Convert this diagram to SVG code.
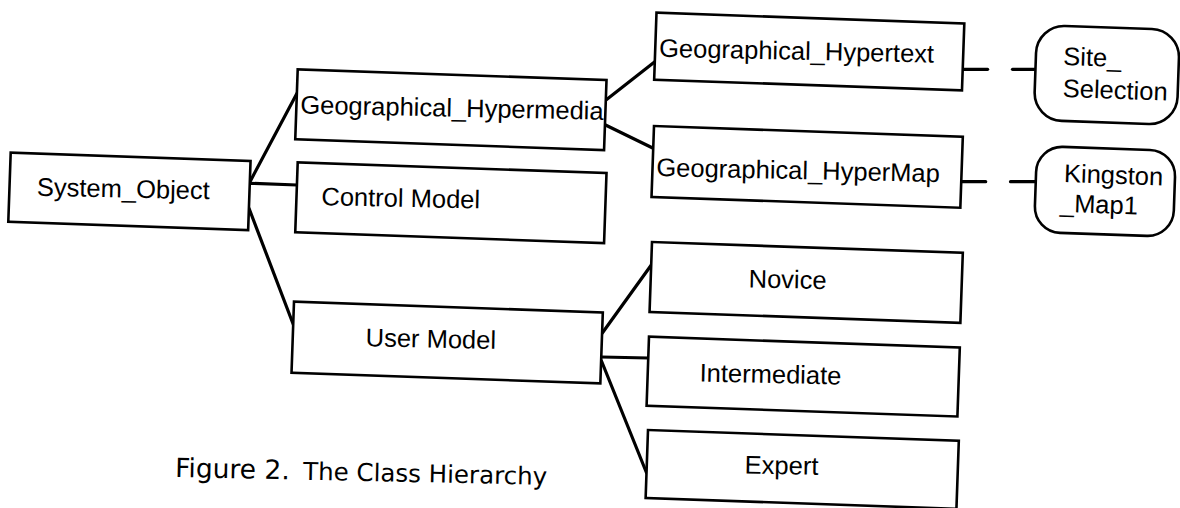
<svg xmlns="http://www.w3.org/2000/svg" width="1180" height="508" viewBox="0 0 1180 508">
  <style>
    .box { fill: #fff; stroke: #000; stroke-width: 2.6; }
    .lbl { font-family: "Liberation Sans", Arial, sans-serif; font-size: 25.5px; fill: #000; }
    .cap { font-family: "DejaVu Sans", Verdana, sans-serif; fill: #000; }
    .edge { fill: none; stroke: #000; stroke-width: 3.2; stroke-linecap: round; }
  </style>
  <rect x="0" y="0" width="1180" height="508" fill="#fff"/>

  <!-- connectors -->
  <g id="connectors">
    <!-- System_Object children -->
    <line class="edge" x1="250" y1="181.7" x2="297" y2="93.3"/>
    <line class="edge" x1="250" y1="183.3" x2="297" y2="185"/>
    <line class="edge" x1="249" y1="208.3" x2="293.5" y2="325"/>
    <!-- Geographical_Hypermedia children -->
    <line class="edge" x1="606" y1="100" x2="654.8" y2="61.7"/>
    <line class="edge" x1="605.5" y1="125" x2="653.2" y2="148.3"/>
    <!-- User Model children -->
    <line class="edge" x1="602.3" y1="333" x2="651.3" y2="265"/>
    <line class="edge" x1="601.5" y1="357" x2="648.3" y2="358"/>
    <line class="edge" x1="601.5" y1="361" x2="646.6" y2="473"/>
    <!-- instance links -->
    <line class="edge" x1="963" y1="69.3" x2="987.6" y2="69.3"/>
    <line class="edge" x1="1012.5" y1="69.3" x2="1036" y2="69.3"/>
    <line class="edge" x1="961.5" y1="181.7" x2="985.7" y2="181.7"/>
    <line class="edge" x1="1010.5" y1="181.7" x2="1036" y2="181.7"/>
  </g>

  <!-- class nodes -->
  <g id="system-object" transform="translate(10.7,152.7) rotate(2)">
    <rect class="box" width="240" height="69"/>
    <text class="lbl" x="27.5" y="42" transform="rotate(-0.8 27.5 42)">System_Object</text>
  </g>
  <g id="geographical-hypermedia" transform="translate(297.7,69.3) rotate(2)">
    <rect class="box" width="309" height="70"/>
    <text class="lbl" x="4" y="44" transform="rotate(-0.8 4 44)">Geographical_Hypermedia</text>
  </g>
  <g id="control-model" transform="translate(297.7,162.3) rotate(2)">
    <rect class="box" width="309" height="70"/>
    <text class="lbl" x="25" y="42" transform="rotate(-0.8 25 42)">Control Model</text>
  </g>
  <g id="user-model" transform="translate(294,301.7) rotate(2)">
    <rect class="box" width="309" height="71"/>
    <text class="lbl" x="73" y="42" transform="rotate(-0.8 73 42)">User Model</text>
  </g>
  <g id="geographical-hypertext" transform="translate(656.5,12.7) rotate(2)">
    <rect class="box" width="308" height="67"/>
    <text class="lbl" x="4" y="44" transform="rotate(-0.8 4 44)">Geographical_Hypertext</text>
  </g>
  <g id="geographical-hypermap" transform="translate(654,126) rotate(2)">
    <rect class="box" width="309" height="71"/>
    <text class="lbl" x="4" y="50" transform="rotate(-0.8 4 50)">Geographical_HyperMap</text>
  </g>
  <g id="novice" transform="translate(652,242) rotate(2)">
    <rect class="box" width="311" height="70"/>
    <text class="lbl" x="98" y="42" transform="rotate(-0.8 98 42)">Novice</text>
  </g>
  <g id="intermediate" transform="translate(649,336.7) rotate(2)">
    <rect class="box" width="311" height="69"/>
    <text class="lbl" x="52" y="43" transform="rotate(-0.8 52 43)">Intermediate</text>
  </g>
  <g id="expert" transform="translate(648,430) rotate(2)">
    <rect class="box" width="311" height="68"/>
    <text class="lbl" x="98" y="40" transform="rotate(-0.8 98 40)">Expert</text>
  </g>

  <!-- instance nodes -->
  <g id="site-selection" transform="translate(1037,25) rotate(2)">
    <rect class="box" width="143" height="95" rx="28" ry="28"/>
    <text class="lbl" x="27.5" y="39">Site_</text>
    <text class="lbl" x="28" y="71">Selection</text>
  </g>
  <g id="kingston-map1" transform="translate(1037,146) rotate(2)">
    <rect class="box" width="139" height="86" rx="26" ry="26"/>
    <text class="lbl" x="28" y="35">Kingston</text>
    <text class="lbl" x="25" y="65">_Map1</text>
  </g>

  <!-- caption -->
  <text class="cap" transform="translate(175,477) rotate(1.2)"><tspan font-size="26.5">Figure 2.</tspan><tspan x="128" font-size="24.5">The Class Hierarchy</tspan></text>
</svg>
